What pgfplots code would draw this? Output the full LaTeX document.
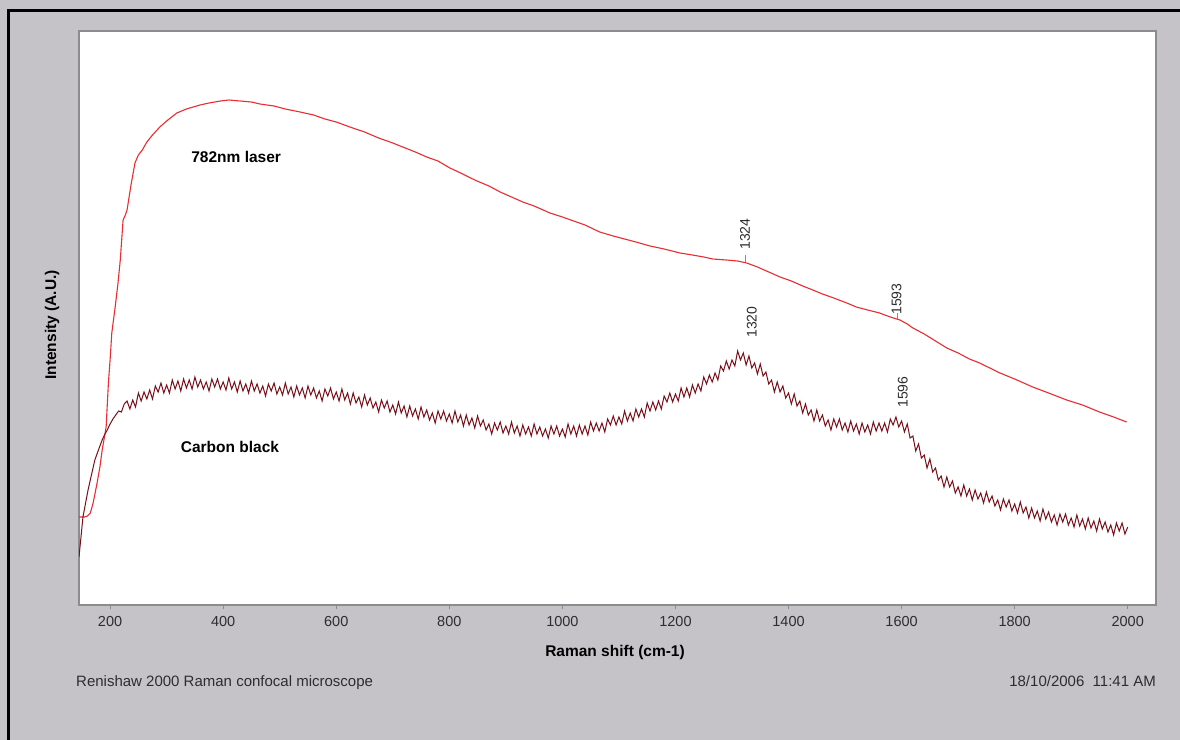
\documentclass[border=0pt]{standalone}
\usepackage{pgfplots}
\pgfplotsset{compat=1.18}
\usepackage{fontspec}
\setmainfont{Liberation Sans}
\definecolor{bg}{RGB}{198,195,200}
\definecolor{laser}{RGB}{235,45,50}
\definecolor{carbon}{RGB}{120,15,25}
\definecolor{txt}{RGB}{45,45,45}
\definecolor{frame}{RGB}{140,140,140}
\begin{document}
\begin{tikzpicture}
\useasboundingbox (0,0) rectangle (1180bp,-740bp);
\fill[bg] (0,0) rectangle (1180bp,-740bp);
\draw[black, line width=3bp] (8bp,-745bp) -- (8bp,-10bp) -- (1185bp,-10bp);
\begin{axis}[
  at={(79bp,-605bp)}, anchor=south west,
  scale only axis, width=1077bp, height=574bp,
  xmin=145, xmax=2050, ymin=0, ymax=574,
  axis background/.style={fill=white},
  axis line style={draw=frame, line width=1.5bp},
  xtick={200,400,...,2000}, ytick=\empty,
  xtick pos=left,
  tick align=outside, major tick length=4bp,
  xtick style={draw=frame, line width=0.8bp},
  /pgf/number format/assume math mode=true,
  /pgf/number format/set thousands separator={},
  xticklabel style={font=\fontsize{14.5bp}{16bp}\selectfont, text=txt, yshift=-4bp},
  xlabel={Raman shift (cm-1)},
  ylabel={Intensity (A.U.)},
  xlabel style={at={(axis description cs:0.4977,-0.0819)}, anchor=center, font=\bfseries\fontsize{15.5bp}{18bp}\selectfont, text=black},
  ylabel style={at={(axis description cs:-0.02507,0.488)}, anchor=center, font=\bfseries\fontsize{15.5bp}{18bp}\selectfont, text=black},
]
% 782nm laser
\addplot[laser, line width=1.1bp] coordinates {
(145,88) (155,88) (160,89) (165,92) (170,102) (177,122) (182,138) (186,155) (190,168) (193,178)
(197,222) (200,245) (203,272) (209,298) (214,322) (218,345) (223,385) (227,390) (230,395) (237,420)
(244,442) (250,450) (257,455) (265,463) (275,470) (288,478) (300,484) (318,492) (335,496) (359,500)
(375,502) (395,504) (410,505) (430,504) (450,503) (465,501) (490,499) (510,496) (536,493) (560,490)
(580,486) (600,483) (624,478) (650,473) (675,467) (700,462) (713,459) (740,453) (760,448) (780,444)
(801,437) (820,432) (845,425) (870,419) (890,413) (910,408) (930,403) (950,399) (978,392) (1000,388)
(1020,384) (1040,380) (1066,373) (1090,369) (1110,366) (1130,363) (1155,359) (1180,356) (1208,352) (1230,350)
(1250,348) (1266,346) (1290,345) (1310,344) (1326,342) (1345,338) (1365,333) (1385,328) (1405,324) (1425,319)
(1443,315) (1460,311) (1480,307) (1503,302) (1520,298) (1540,295) (1561,292) (1580,288) (1597,285) (1610,281)
(1620,277) (1640,271) (1660,264) (1680,257) (1700,252) (1720,246) (1738,242) (1756,237) (1774,232) (1800,226)
(1832,218) (1860,212) (1892,205) (1920,200) (1950,193) (1975,188) (1998,183)
};
% Carbon black
\addplot[carbon, line width=1bp] coordinates {
(145,48) (152,88) (161,115) (173,145) (180,156) (186,165) (190,170) (195,175) (200,181) (205,186)
(210,190) (215,194) (220,193) (225,201)
(230,204) (235,196) (240,205) (245,198) (250,212) (255,204) (260,213) (265,206) (270,215) (275,206)
(280,219) (285,213) (290,222) (295,212) (300,220) (305,212) (310,225) (315,216) (320,224) (325,214)
(330,226) (335,217) (340,225) (345,216) (350,228) (355,218) (360,225) (365,216) (370,223) (375,214)
(380,226) (385,218) (390,226) (395,216) (400,223) (405,215) (410,227) (415,216) (420,223) (425,213)
(430,224) (435,214) (440,221) (445,212) (450,224) (455,214) (460,221) (465,212) (470,219) (475,209)
(480,221) (485,214) (490,222) (495,211) (500,218) (505,210) (510,222) (515,211) (520,218) (525,208)
(530,219) (535,210) (540,217) (545,207) (550,219) (555,210) (560,217) (565,207) (570,214) (575,204)
(580,216) (585,209) (590,217) (595,206) (600,213) (605,204) (610,216) (615,205) (620,212) (625,201)
(630,212) (635,202) (640,208) (645,198) (650,210) (655,200) (660,207) (665,197) (670,203) (675,193)
(680,205) (685,197) (690,204) (695,193) (700,200) (705,191) (710,203) (715,192) (720,199) (725,188)
(730,199) (735,189) (740,196) (745,186) (750,198) (755,188) (760,195) (765,185) (770,192) (775,182)
(780,194) (785,186) (790,194) (795,184) (800,191) (805,182) (810,194) (815,183) (820,190) (825,179)
(830,190) (835,180) (840,187) (845,177) (850,189) (855,179) (860,185) (865,175) (870,181) (875,171)
(880,182) (885,175) (890,183) (895,172) (900,179) (905,171) (910,183) (915,172) (920,179) (925,169)
(930,180) (935,171) (940,178) (945,169) (950,181) (955,171) (960,178) (965,169) (970,176) (975,167)
(980,179) (985,171) (990,179) (995,169) (1000,176) (1005,168) (1010,181) (1015,171) (1020,179) (1025,169)
(1030,180) (1035,171) (1040,179) (1045,170) (1050,183) (1055,174) (1060,182) (1065,174) (1070,182) (1075,173)
(1080,186) (1085,180) (1090,189) (1095,180) (1100,188) (1105,181) (1110,194) (1115,184) (1120,192) (1125,184)
(1130,196) (1135,188) (1140,196) (1145,188) (1150,202) (1155,194) (1160,203) (1165,195) (1170,204) (1175,196)
(1180,209) (1185,203) (1190,212) (1195,203) (1200,211) (1205,204) (1210,217) (1215,208) (1220,217) (1225,208)
(1230,220) (1235,212) (1240,221) (1245,214) (1250,228) (1255,221) (1260,230) (1265,223) (1270,232) (1275,225)
(1280,239) (1285,234) (1290,244) (1295,236) (1300,245) (1305,239) (1310,254) (1315,245) (1320,252) (1325,240)
(1330,249) (1335,237) (1340,242) (1345,231) (1350,241) (1355,229) (1360,233) (1365,221) (1370,225) (1375,213)
(1380,223) (1385,213) (1390,219) (1395,207) (1400,212) (1405,201) (1410,211) (1415,199) (1420,204) (1425,192)
(1430,201) (1435,190) (1440,195) (1445,184) (1450,195) (1455,184) (1460,190) (1465,179) (1470,185) (1475,175)
(1480,186) (1485,178) (1490,186) (1495,175) (1500,182) (1505,173) (1510,184) (1515,174) (1520,181) (1525,171)
(1530,182) (1535,173) (1540,180) (1545,171) (1550,183) (1555,174) (1560,182) (1565,174) (1570,182) (1575,173)
(1580,186) (1585,180) (1590,188) (1595,178) (1600,184) (1605,173) (1610,181) (1615,167) (1620,169) (1625,154)
(1630,161) (1635,147) (1640,150) (1645,137) (1650,146) (1655,133) (1660,137) (1665,125) (1670,129) (1675,118)
(1680,128) (1685,118) (1690,124) (1695,112) (1700,118) (1705,109) (1710,120) (1715,109) (1720,116) (1725,105)
(1730,115) (1735,106) (1740,112) (1745,102) (1750,113) (1755,103) (1760,109) (1765,99) (1770,105) (1775,95)
(1780,106) (1785,98) (1790,105) (1795,94) (1800,101) (1805,92) (1810,103) (1815,92) (1820,98) (1825,87)
(1830,97) (1835,87) (1840,94) (1845,84) (1850,96) (1855,86) (1860,93) (1865,83) (1870,90) (1875,80)
(1880,91) (1885,83) (1890,91) (1895,80) (1900,87) (1905,78) (1910,90) (1915,79) (1920,86) (1925,76)
(1930,87) (1935,77) (1940,84) (1945,74) (1950,86) (1955,76) (1960,83) (1965,73) (1970,80) (1975,70)
(1980,82) (1985,74) (1990,82) (1995,71) (2000,78)
};
% peak marker ticks
\addplot[frame, line width=0.8bp] coordinates {(1324,343) (1324,350)};
\addplot[frame, line width=0.8bp] coordinates {(1593,286) (1593,292)};
% annotations
\node[rotate=90, text=txt, font=\fontsize{14bp}{16bp}\selectfont] at (axis cs:1323,371) {1324};
\node[rotate=90, text=txt, font=\fontsize{14bp}{16bp}\selectfont] at (axis cs:1591,306) {1593};
\node[rotate=90, text=txt, font=\fontsize{14bp}{16bp}\selectfont] at (axis cs:1335,283) {1320};
\node[rotate=90, text=txt, font=\fontsize{14bp}{16bp}\selectfont] at (axis cs:1602,213) {1596};
\node[text=black, font=\bfseries\fontsize{15.5bp}{18bp}\selectfont] at (axis cs:423,448) {782nm laser};
\node[text=black, font=\bfseries\fontsize{15.5bp}{18bp}\selectfont] at (axis cs:412,158) {Carbon black};
\end{axis}
\node[anchor=base west, inner sep=0pt, text=txt, font=\fontsize{15bp}{18bp}\selectfont] at (76bp,-686bp) {Renishaw 2000 Raman confocal microscope};
\node[anchor=base east, inner sep=0pt, text=txt, font=\fontsize{15bp}{18bp}\selectfont] at (1156bp,-686bp) {18/10/2006\ \ 11:41 AM};
\end{tikzpicture}
\end{document}
